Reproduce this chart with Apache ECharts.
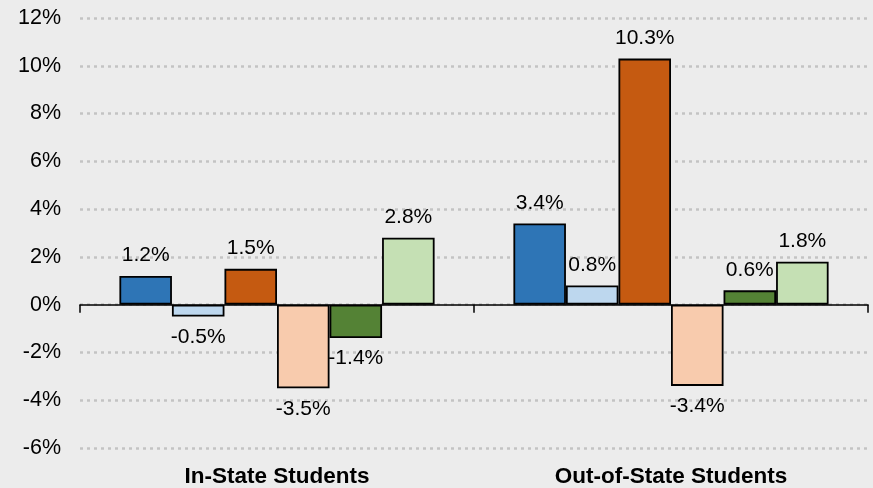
<!DOCTYPE html>
<html>
<head>
<meta charset="utf-8">
<script src="https://cdn.jsdelivr.net/npm/echarts@6/dist/echarts.min.js"></script>
<style>
  html, body { margin: 0; padding: 0; background: #ececec; }
  #main { width: 873px; height: 488px; }
</style>
</head>
<body>
<div id="main"></div>
<script>
// categories and values
const categories = ['In-State Students', 'Out-of-State Students'];
const seriesNames = ['Series 1', 'Series 2', 'Series 3', 'Series 4', 'Series 5', 'Series 6'];
const series1 = [1.2, 3.4];
const series2 = [-0.5, 0.8];
const series3 = [1.5, 10.3];
const series4 = [-3.5, -3.4];
const series5 = [-1.4, 0.6];
const series6 = [2.8, 1.8];
const allValues = [series1, series2, series3, series4, series5, series6];
const colors = ['#2e75b6', '#bdd7ee', '#c55a11', '#f8cbad', '#548235', '#c5e0b4'];

const font = 'Liberation Sans, Arial, sans-serif';

const chart = echarts.init(document.getElementById('main'));

const option = {
    backgroundColor: '#ececec',
    animation: false,
    grid: { left: 80, right: 5, top: 18, bottom: 40 },
    xAxis: [
        {
            type: 'category',
            data: categories,
            position: 'bottom',
            axisLine: { onZero: true, lineStyle: { color: '#000', width: 1.5 } },
            axisTick: { show: true, length: 8, lineStyle: { color: '#000', width: 1.5 } },
            axisLabel: { show: false },
            splitLine: { show: false }
        },
        {
            // labels only, pinned to the bottom of the plot
            type: 'category',
            data: categories,
            position: 'bottom',
            axisLine: { show: false, onZero: false },
            axisTick: { show: false },
            axisLabel: {
                margin: 17,
                color: '#000',
                fontSize: 22.5,
                fontWeight: 'bold',
                fontFamily: font
            }
        }
    ],
    yAxis: {
        type: 'value',
        min: -6,
        max: 12,
        interval: 2,
        axisLine: { show: false },
        axisTick: { show: false },
        axisLabel: {
            formatter: v => v + '%',
            color: '#000',
            fontSize: 21.5,
            margin: 19,
            fontFamily: font
        },
        splitLine: {
            lineStyle: { color: '#c3c3c3', type: [3, 4], width: 2.5 }
        }
    },
    series: allValues.map((vals, i) => ({
        name: seriesNames[i],
        type: 'bar',
        xAxisIndex: 0,
        data: vals.map(v => ({
            value: v,
            label: { position: v < 0 ? 'bottom' : 'top' }
        })),
        barGap: '0%',
        barCategoryGap: '20%',
        itemStyle: { color: colors[i], borderColor: '#000', borderWidth: 1.8 },
        label: {
            show: true,
            distance: 10,
            formatter: p => p.value.toFixed(1) + '%',
            color: '#000',
            fontSize: 21,
            fontFamily: font
        }
    }))
};

chart.setOption(option);
</script>
</body>
</html>
